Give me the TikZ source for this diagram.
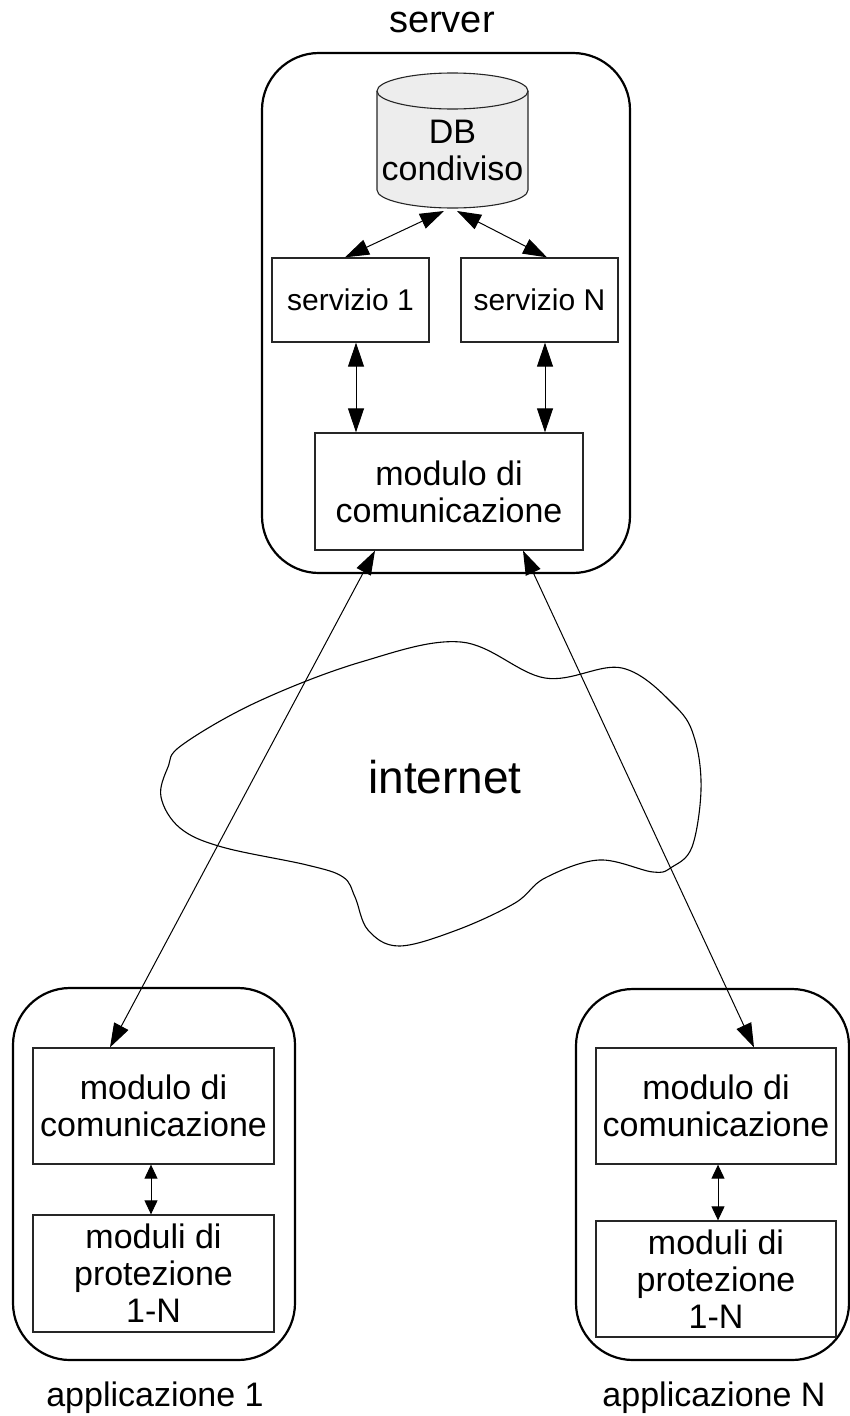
\documentclass[tikz,border=0pt]{standalone}
\usepackage{fontspec}
\setmainfont{Liberation Sans}
\usetikzlibrary{arrows.meta}
\tikzset{
  txt/.style={font=\fontsize{34}{37}\selectfont, align=center, inner sep=0pt},
  module/.style={txt, draw=black!85, line width=1.3pt, minimum width=#1},
  module/.default=157pt,
  container/.style={draw=black, line width=2.2pt, rounded corners=57pt},
  bighead/.tip={Triangle[length=24pt, width=16pt]},
  smallhead/.tip={Triangle[length=14pt, width=13pt]},
  link/.style={draw=black, line width=1pt, arrows={bighead-bighead}},
  shortlink/.style={draw=black, line width=1pt, arrows={smallhead-smallhead}},
}
\begin{document}
\begin{tikzpicture}[x=1pt, y=-1pt]
\useasboundingbox (0,0) rectangle (850,1416);

% containers
\draw[container] (262,53) rectangle (630,573);
\draw[container] (13,988) rectangle (295,1360);
\draw[container] (576,989) rectangle (849,1360);

% shared database (cylinder)
\filldraw[fill=black!7, draw=black!85, line width=1.1pt]
  (377,91) -- (377,190) arc[start angle=180, end angle=360, x radius=75.5pt, y radius=18pt]
  -- (528,91) arc[start angle=0, end angle=180, x radius=75.5pt, y radius=18pt] -- cycle;
\draw[black!85, line width=1.1pt] (377,91) arc[start angle=180, end angle=360, x radius=75.5pt, y radius=18pt];
\node[txt] (db) at (452.5,150) {DB\\condiviso};
\coordinate (dbL) at (444,211);
\coordinate (dbR) at (457,211);

% server side modules
\node[module, minimum height=84pt, font=\fontsize{30}{34}\selectfont] (s1) at (350.5,300) {servizio 1};
\node[module, minimum height=84pt, font=\fontsize{30}{34}\selectfont] (sN) at (539.5,300) {servizio N};
\node[module=268pt, minimum height=117pt] (mod) at (449,491.5) {modulo di\\comunicazione};

% client side modules
\node[module=241pt, minimum height=116pt] (a1m) at (153.5,1106) {modulo di\\comunicazione};
\node[module=241pt, minimum height=117pt] (a1p) at (153.5,1273.5) {moduli di\\protezione\\1-N};
\node[module=240pt, minimum height=116pt] (aNm) at (716,1106) {modulo di\\comunicazione};
\node[module=240pt, minimum height=116pt] (aNp) at (716,1279) {moduli di\\protezione\\1-N};

% labels
\node[txt, anchor=base, font=\fontsize{38}{42}\selectfont] (srvlbl) at (442,32) {server};
\node[txt, anchor=base] (a1lbl) at (155,1406) {applicazione 1};
\node[txt, anchor=base] (aNlbl) at (714,1406) {applicazione N};

% internet cloud
\draw[line width=1.1pt] plot[smooth cycle, tension=0.6] coordinates {
  (461,642) (545,678) (622,668) (676,707) (695,740) (701,790) (692,847)
  (672,867) (653,872) (599,860) (545,878) (515,903) (457,930) (399,946)
  (368,930) (355,897) (343,877) (307,865) (222,847) (180,828) (161,797)
  (168,767) (182,745) (257,702) (361,662)};
\node[font=\fontsize{46}{50}\selectfont, anchor=base, inner sep=0pt] (net) at (445,793) {internet};

% connections
\draw[link] (dbL) -- ([xshift=-5.5pt]s1.north);
\draw[link] (dbR) -- ([xshift=7.5pt]sN.north);
\draw[link] ([xshift=5.5pt]s1.south) -- ([xshift=-93pt]mod.north);
\draw[link] ([xshift=5.5pt]sN.south) -- ([xshift=96pt]mod.north);
\draw[link] ([xshift=-74pt]mod.south) -- ([xshift=-43.5pt]a1m.north);
\draw[link] ([xshift=74pt]mod.south) -- ([xshift=38pt]aNm.north);
\draw[shortlink] ([xshift=-2.5pt]a1m.south) -- ([xshift=-2.5pt]a1p.north);
\draw[shortlink] ([xshift=2pt]aNm.south) -- ([xshift=2pt]aNp.north);
\end{tikzpicture}
\end{document}
